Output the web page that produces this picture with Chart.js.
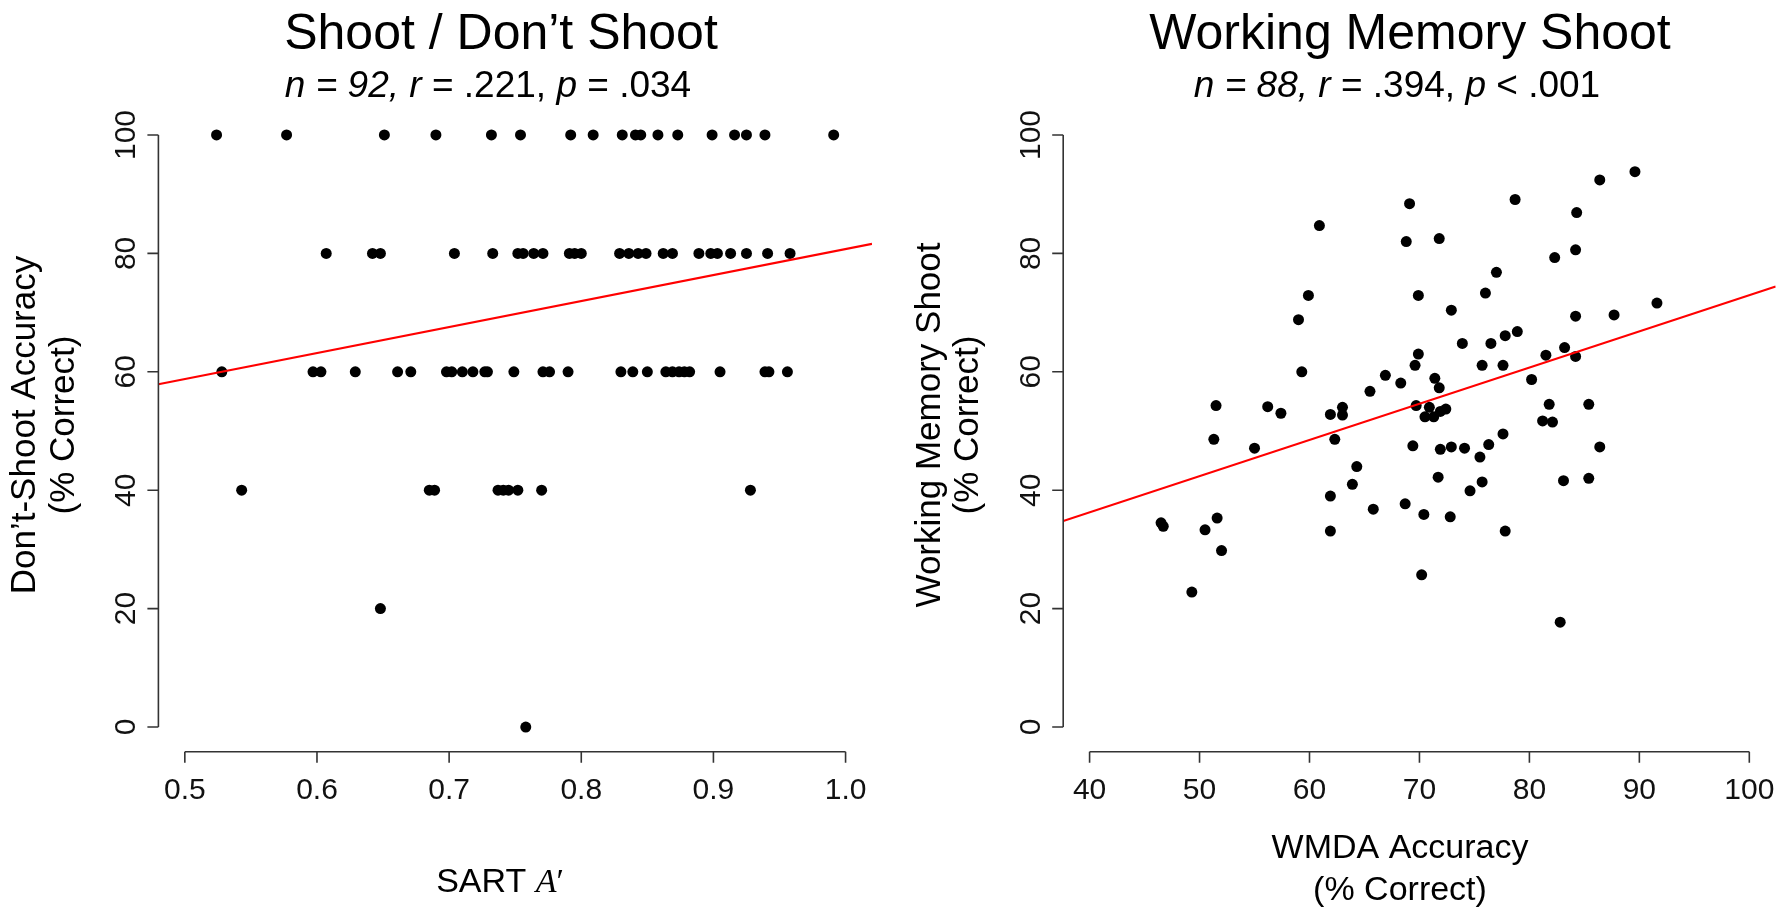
<!DOCTYPE html>
<html><head><meta charset="utf-8">
<script src="https://cdn.jsdelivr.net/npm/chart.js@4.4.1/dist/chart.umd.min.js"></script>
<style>
html,body{margin:0;padding:0;background:#fff;}
#wrap{position:relative;width:1784px;height:907px;overflow:hidden;background:#fff;}
canvas{position:absolute;top:0;}
</style></head><body>
<div id="wrap">
<canvas id="left" width="900" height="907" style="left:0px"></canvas>
<canvas id="right" width="884" height="907" style="left:900px"></canvas>
</div>
<script>
// ---------- Left panel: Shoot / Don't Shoot ----------
const sartA = [
  0.524,0.577,0.651,0.690,0.732,0.754,0.792,0.809,0.831,0.841,0.845,0.858,0.873,0.899,0.916,0.925,0.939,0.991,
  0.607,0.642,0.648,0.704,0.733,0.752,0.756,0.764,0.771,0.791,0.795,0.800,0.829,0.836,0.843,0.849,0.862,0.869,0.889,0.898,0.903,0.913,0.925,0.941,0.958,
  0.528,0.597,0.603,0.629,0.661,0.671,0.698,0.702,0.710,0.718,0.727,0.729,0.749,0.771,0.776,0.790,0.830,0.839,0.850,0.864,0.869,0.874,0.878,0.882,0.905,0.939,0.942,0.956,
  0.543,0.685,0.689,0.737,0.741,0.745,0.752,0.770,0.928,
  0.648,
  0.758
];
const dontShootAcc = [
  100,100,100,100,100,100,100,100,100,100,100,100,100,100,100,100,100,100,
  80,80,80,80,80,80,80,80,80,80,80,80,80,80,80,80,80,80,80,80,80,80,80,80,80,
  60,60,60,60,60,60,60,60,60,60,60,60,60,60,60,60,60,60,60,60,60,60,60,60,60,60,60,60,
  40,40,40,40,40,40,40,40,40,
  20,
  0
];
const leftFitX = [0.48, 1.02];
const leftFitY = [57.9, 81.6];
const leftXTicks = [0.5, 0.6, 0.7, 0.8, 0.9, 1.0];
const leftXTickLabels = ['0.5', '0.6', '0.7', '0.8', '0.9', '1.0'];

// ---------- Right panel: Working Memory Shoot ----------
const wmdaAcc = [
  89.6,86.4,69.1,78.7,84.3,60.9,68.8,71.8,84.2,82.3,77.0,76.0,59.9,69.9,72.9,91.6,87.7,84.2,59.0,78.9,
  77.8,73.9,76.5,83.2,69.9,81.5,84.2,69.6,75.7,77.6,59.3,66.9,80.2,71.4,71.8,68.3,65.5,51.5,56.2,57.4,
  61.9,63.0,63.0,69.7,70.9,70.5,71.3,71.9,72.4,81.8,85.4,81.2,82.1,51.3,62.3,55.0,69.4,71.9,72.9,74.1,
  76.3,77.6,86.4,64.3,75.5,63.9,71.7,75.7,74.6,83.1,85.4,61.9,68.7,65.8,70.4,72.8,46.5,46.7,51.6,50.5,
  61.9,77.8,52.0,70.2,49.3,82.8
];
const wmShoot = [
  93.8,92.4,88.4,89.1,86.9,84.7,82.0,82.5,80.6,79.3,76.8,73.3,72.9,72.9,70.4,71.6,69.6,69.4,68.8,66.8,
  66.1,64.8,64.8,64.1,63.0,62.8,62.6,61.1,61.1,61.1,60.0,59.4,58.7,58.9,57.3,58.1,56.7,54.3,54.1,53.0,
  52.8,54.0,52.7,54.3,54.0,52.4,52.4,53.3,53.7,54.5,54.5,51.7,51.5,48.6,48.6,47.1,47.5,46.9,47.3,47.1,
  47.7,49.5,47.3,44.0,45.6,41.0,42.2,41.4,39.9,41.6,42.0,39.0,37.7,36.8,35.9,35.5,34.5,33.9,35.3,33.3,
  33.1,33.1,29.8,25.7,22.8,17.7
];
const rightFitX = [37.6, 102.4];
const rightFitY = [34.8, 74.4];
const rightXTicks = [40, 50, 60, 70, 80, 90, 100];
const rightXTickLabels = ['40', '50', '60', '70', '80', '90', '100'];

// shared y axis
const yTicks = [0, 20, 40, 60, 80, 100];
const yTickLabels = ['0', '20', '40', '60', '80', '100'];

const SANS = "'Liberation Sans', Arial, Helvetica, sans-serif";
const SERIF = "'Liberation Serif', 'Times New Roman', serif";

function fontOf(p, size) {
  const fam = p.serif ? SERIF : SANS;
  return (p.i ? 'italic ' : '') + size + 'px ' + fam;
}
function drawParts(ctx, parts, cx, y, size) {
  let total = 0;
  parts.forEach(p => { ctx.font = fontOf(p, size); p.w = ctx.measureText(p.t).width; total += p.w; });
  let x = cx - total / 2;
  ctx.textAlign = 'left';
  ctx.textBaseline = 'alphabetic';
  parts.forEach(p => { ctx.font = fontOf(p, size); ctx.fillText(p.t, x, y); x += p.w; });
}

function axesPlugin(cfg) {
  return {
    id: 'rAxes',
    afterDraw(chart) {
      const ctx = chart.ctx;
      const xs = chart.scales.x, ys = chart.scales.y;
      const left = chart.chartArea.left, bottom = chart.chartArea.bottom;
      ctx.save();
      ctx.strokeStyle = '#333';
      ctx.fillStyle = '#111';
      ctx.lineWidth = 1.6;
      // y axis
      const y0 = ys.getPixelForValue(yTicks[0]);
      const y1 = ys.getPixelForValue(yTicks[yTicks.length - 1]);
      ctx.beginPath();
      ctx.moveTo(left, y0); ctx.lineTo(left, y1);
      yTicks.forEach(v => { const py = ys.getPixelForValue(v); ctx.moveTo(left, py); ctx.lineTo(left - 11, py); });
      ctx.stroke();
      ctx.font = '30px ' + SANS;
      ctx.textAlign = 'center';
      ctx.textBaseline = 'alphabetic';
      yTicks.forEach((v, i) => {
        const py = ys.getPixelForValue(v);
        ctx.save();
        ctx.translate(left - 23, py);
        ctx.rotate(-Math.PI / 2);
        ctx.fillText(yTickLabels[i], 0, 0);
        ctx.restore();
      });
      // x axis
      const ax = bottom + 1;
      const x0 = xs.getPixelForValue(cfg.xTicks[0]);
      const x1 = xs.getPixelForValue(cfg.xTicks[cfg.xTicks.length - 1]);
      ctx.beginPath();
      ctx.moveTo(x0, ax); ctx.lineTo(x1, ax);
      cfg.xTicks.forEach(v => { const px = xs.getPixelForValue(v); ctx.moveTo(px, ax); ctx.lineTo(px, ax + 11); });
      ctx.stroke();
      ctx.font = '30px ' + SANS;
      ctx.textAlign = 'center';
      cfg.xTicks.forEach((v, i) => {
        ctx.fillText(cfg.xLabels[i], xs.getPixelForValue(v), 799);
      });
      // titles
      ctx.fillStyle = '#000';
      ctx.font = '50px ' + SANS;
      ctx.textAlign = 'center';
      ctx.fillText(cfg.title, cfg.titleX, 49);
      drawParts(ctx, cfg.sub, cfg.subX, 97, 37);
      // x title
      cfg.xTitle.forEach(line => drawParts(ctx, line.parts, cfg.xTitleX, line.y, 34));
      // y title (rotated)
      cfg.yTitle.forEach(line => {
        ctx.save();
        ctx.translate(line.x, cfg.yTitleY);
        ctx.rotate(-Math.PI / 2);
        drawParts(ctx, line.parts, 0, 0, 35);
        ctx.restore();
      });
      ctx.restore();
    }
  };
}

function makeChart(id, xs, ys, fx, fy, xmin, xmax, pad, cfg) {
  return new Chart(document.getElementById(id), {
    type: 'scatter',
    data: {
      datasets: [
        {
          type: 'line',
          data: fx.map((x, i) => ({ x: x, y: fy[i] })),
          borderColor: '#ff0000',
          borderWidth: 2.2,
          pointRadius: 0,
          fill: false,
          order: 0
        },
        {
          data: xs.map((x, i) => ({ x: x, y: ys[i] })),
          pointRadius: 5.5,
          pointBackgroundColor: '#000',
          pointBorderWidth: 0,
          pointBorderColor: '#000',
          order: 1
        }
      ]
    },
    options: {
      responsive: false,
      animation: false,
      events: [],
      layout: { padding: pad },
      scales: {
        x: { type: 'linear', display: false, min: xmin, max: xmax },
        y: { type: 'linear', display: false, min: -4, max: 104 }
      },
      plugins: { legend: { display: false }, tooltip: { enabled: false } }
    },
    plugins: [axesPlugin(cfg)]
  });
}

makeChart('left', sartA, dontShootAcc, leftFitX, leftFitY, 0.48, 1.02,
  { left: 158.4, right: 28, top: 111.3, bottom: 156.3 },
  {
    xTicks: leftXTicks, xLabels: leftXTickLabels,
    title: 'Shoot / Don\u2019t Shoot', titleX: 501,
    sub: [{ t: 'n = 92, ', i: true }, { t: 'r', i: true }, { t: ' = .221, ' }, { t: 'p', i: true }, { t: ' = .034' }],
    subX: 488,
    xTitleX: 500,
    xTitle: [{ y: 892, parts: [{ t: 'SART ' }, { t: 'A', i: true, serif: true }, { t: '\u2032', serif: true }] }],
    yTitleY: 425,
    yTitle: [
      { x: 35, parts: [{ t: 'Don\u2019t-Shoot Accuracy' }] },
      { x: 73.5, parts: [{ t: '(% Correct)' }] }
    ]
  });

makeChart('right', wmdaAcc, wmShoot, rightFitX, rightFitY, 37.6, 102.4,
  { left: 163.2, right: 8.3, top: 111.3, bottom: 156.3 },
  {
    xTicks: rightXTicks, xLabels: rightXTickLabels,
    title: 'Working Memory Shoot', titleX: 510,
    sub: [{ t: 'n = 88, ', i: true }, { t: 'r', i: true }, { t: ' = .394, ' }, { t: 'p', i: true }, { t: ' < .001' }],
    subX: 497,
    xTitleX: 500,
    xTitle: [
      { y: 858, parts: [{ t: 'WMDA Accuracy' }] },
      { y: 900, parts: [{ t: '(% Correct)' }] }
    ],
    yTitleY: 425,
    yTitle: [
      { x: 40, parts: [{ t: 'Working Memory Shoot' }] },
      { x: 78.2, parts: [{ t: '(% Correct)' }] }
    ]
  });
</script>
</body></html>
